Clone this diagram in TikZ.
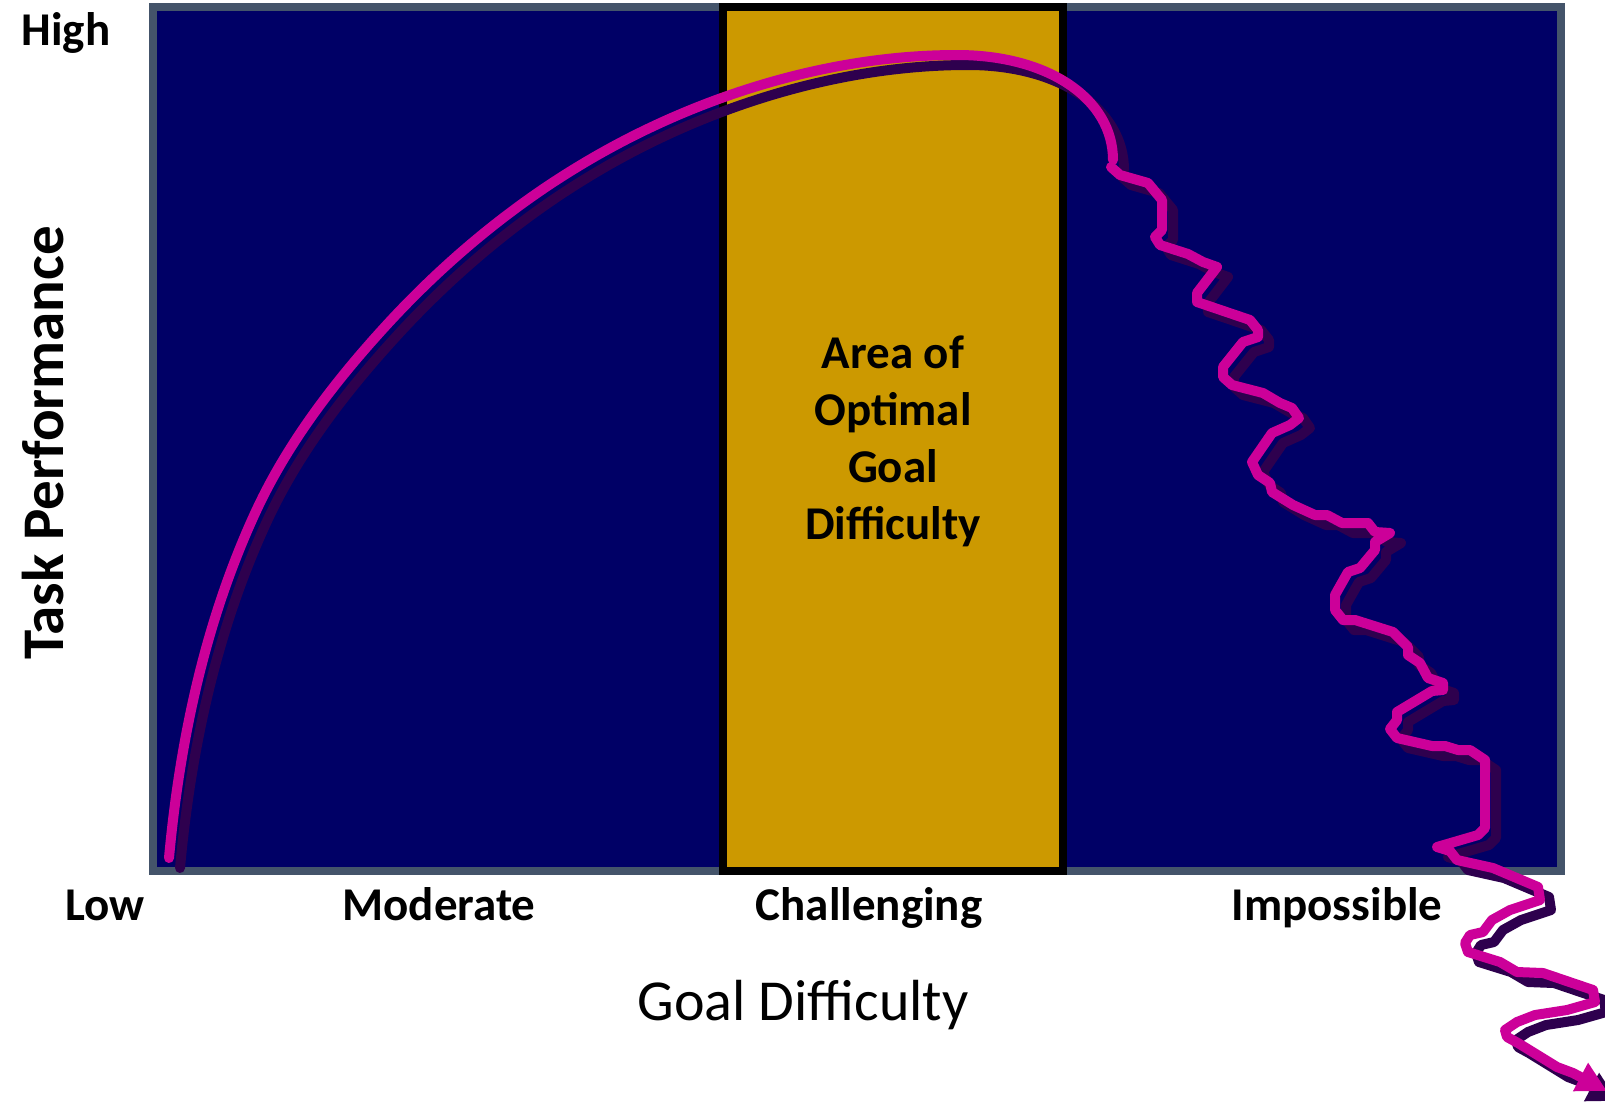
\documentclass[tikz,border=0pt]{standalone}
\usepackage{fontspec}
\setmainfont{Carlito}
\usetikzlibrary{arrows.meta}
\definecolor{chartnavy}{HTML}{000066}
\definecolor{chartslate}{HTML}{44546A}
\definecolor{chartgold}{HTML}{CC9900}
\definecolor{curvemagenta}{HTML}{CC0099}
\definecolor{curveshadow}{HTML}{2E004E}
\newcommand\goalarc{(169,858) .. controls (180,738) and (206,618) .. (257,509) .. controls (288,443) and (333,384) .. (382,330) .. controls (439,267) and (506,210) .. (579,166) .. controls (691,98) and (826,55) .. (957,55) .. controls (1050,55) and (1113,100) .. (1113,160)}
\newcommand\goalzig{(1111,167) -- (1120,175) -- (1148,183) -- (1162,200) -- (1162,230) -- (1155,237) -- (1160,245) -- (1188,254) -- (1203,262) -- (1217,267) -- (1197,293) -- (1197,302) -- (1250,320) -- (1258,330) -- (1258,337) -- (1243,342) -- (1223,367) -- (1223,377) -- (1232,385) -- (1263,393) -- (1280,403) -- (1292,408) -- (1299,418) -- (1290,425) -- (1272,433) -- (1252,462) -- (1258,475) -- (1270,483) -- (1272,492) -- (1293,505) -- (1315,515) -- (1327,515) -- (1342,523) -- (1368,523) -- (1375,532) -- (1390,533) -- (1375,542) -- (1375,550) -- (1360,568) -- (1348,572) -- (1335,595) -- (1335,610) -- (1343,620) -- (1355,620) -- (1393,632) -- (1408,647) -- (1408,655) -- (1420,663) -- (1428,678) -- (1443,683) -- (1443,690) -- (1432,691) -- (1397,712) -- (1397,720) -- (1390,729) -- (1397,738) -- (1432,746) -- (1445,746) -- (1458,750) -- (1470,750) -- (1485,760) -- (1485,828) -- (1478,835) -- (1437,847) -- (1450,851) -- (1457,860) -- (1493,868) -- (1538,887) -- (1540,900) -- (1510,910) -- (1492,920) -- (1483,932) -- (1470,935) -- (1465,943) -- (1468,952) -- (1500,962) -- (1517,972) -- (1543,973) -- (1593,990) -- (1595,1002) -- (1567,1010) -- (1535,1015) -- (1517,1022) -- (1505,1030) -- (1507,1037) -- (1518,1043) -- (1557,1067) -- (1573,1073) -- (1607,1091)}
\tikzset{
  curveline/.style={line width=10pt, line cap=round, line join=round},
  curvetip/.style={-{Triangle[length=30pt,width=30pt]}},
  lbl/.style={font=\fontsize{47}{57}\selectfont\bfseries, inner sep=0pt, anchor=base},
}
\begin{document}
\begin{tikzpicture}[x=1pt,y=-1pt]
\useasboundingbox[fill=white] (0,0) rectangle (1605,1101);
% chart area
\draw[chartslate, line width=8pt, fill=chartnavy] (153,7) rectangle (1561,871);
% optimal band
\draw[black, line width=8pt, fill=chartgold] (723,7) rectangle (1063,871);
% shadow of the performance curve
\begin{scope}[shift={(11,10)}]
  \draw[draw=curveshadow, curveline] \goalarc;
  \draw[draw=curveshadow, curveline, curvetip] \goalzig;
\end{scope}
% performance curve
\draw[draw=curvemagenta, curveline] \goalarc;
\draw[draw=curvemagenta, curveline, curvetip] \goalzig;
% labels
\node[lbl] (high) at (66,45) {High};
\node[lbl] (low) at (105,920) {Low};
\node[lbl] (moderate) at (439,920) {Moderate};
\node[lbl] (challenging) at (869,920) {Challenging};
\node[lbl] (impossible) at (1337,920) {Impossible};
\node[font=\fontsize{58}{70}\selectfont, inner sep=0pt, anchor=base] (xaxis) at (803,1020) {Goal Difficulty};
\node[font=\fontsize{59}{70}\selectfont\bfseries, inner sep=0pt, anchor=base, rotate=90] (yaxis) at (63,443) {Task Performance};
\node[font=\fontsize{47}{57}\selectfont\bfseries, inner sep=0pt, align=center, anchor=north] (area) at (893,336) {Area of\\Optimal\\Goal\\Difficulty};
\end{tikzpicture}
\end{document}
